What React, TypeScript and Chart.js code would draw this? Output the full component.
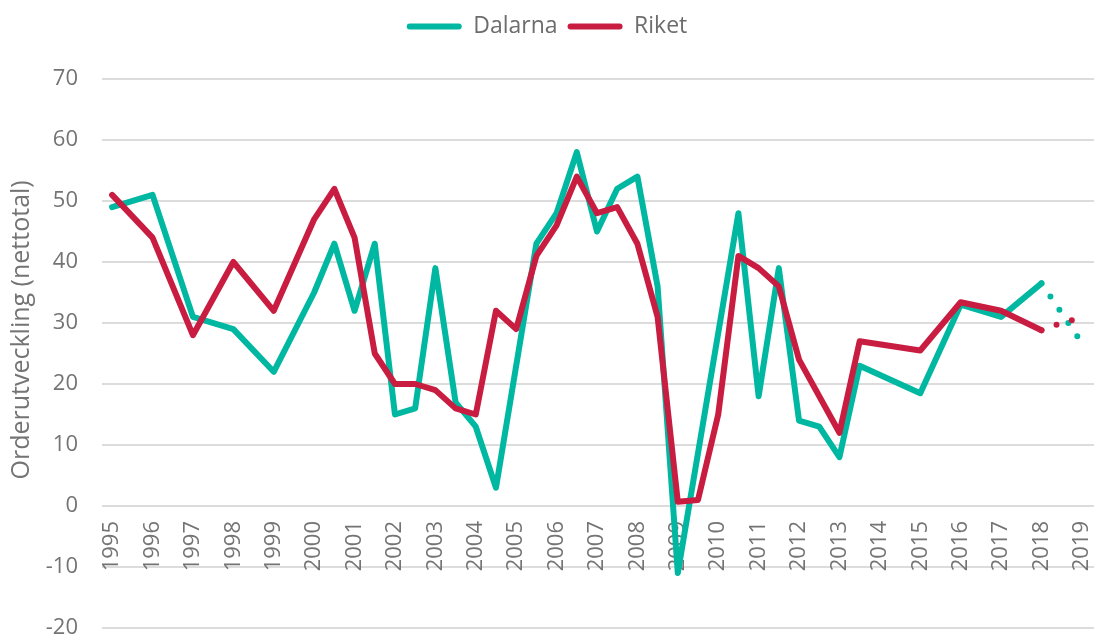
import React, { useEffect, useRef } from "react";
import { Chart, registerables } from "chart.js";

Chart.register(...registerables);

// ---- data ----
const periods = [
  1995, 1996, 1997, 1998, 1999, 2000, 2000.5, 2001, 2001.5, 2002, 2002.5,
  2003, 2003.5, 2004, 2004.5, 2005, 2005.5, 2006, 2006.5, 2007, 2007.5,
  2008, 2008.5, 2009, 2009.5, 2010, 2010.5, 2011, 2011.5, 2012, 2012.5,
  2013, 2013.5, 2015, 2016, 2017, 2018, 2018.5, 2019,
];
const dalarna = [
  49, 51, 31, 29, 22, 35, 43, 32, 43, 15, 16,
  39, 17, 13, 3, null, 43, 48, 58, 45, 52,
  54, 36, -11, null, null, 48, 18, 39, 14, 13,
  8, 23, 18.5, 33, 31, 36.5, 31.6, 26.7,
];
const riket = [
  51, 44, 28, 40, 32, 47, 52, 44, 25, 20, 20,
  19, 16, 15, 32, 29, 41, 46, 54, 48, 49,
  43, 31, 0.7, 1, 15, 41, 39, 36, 24, null,
  12, 27, 25.5, 33.4, 32, 28.8, 30, 30.9,
];
const yearTicks = [
  1995, 1996, 1997, 1998, 1999, 2000, 2001, 2002, 2003, 2004, 2005, 2006,
  2007, 2008, 2009, 2010, 2011, 2012, 2013, 2014, 2015, 2016, 2017, 2018, 2019,
];
const yearLabels = yearTicks.map((y) => String(y));
const seriesNames = ["Dalarna", "Riket"];
const yTitle = "Orderutveckling (nettotal)";
const forecastFrom = 2018;

const TEAL = "#00B8A1";
const RED = "#C91C41";
const TEXT = "#747474";
const FONT = '"Open Sans", sans-serif';

const legendGap = {
  id: "legendGap",
  beforeInit(chart: any) {
    const lg = chart.legend;
    if (!lg) return;
    const orig = lg.fit;
    lg.fit = function () {
      orig.call(this);
      this.height += 31;
    };
  },
};

const yTitlePlugin = {
  id: "yTitleText",
  afterDraw(chart: any) {
    const { ctx, chartArea } = chart;
    ctx.save();
    ctx.translate(22, chartArea.top + (chartArea.bottom - chartArea.top) * 0.457);
    ctx.rotate(-Math.PI / 2);
    ctx.font = `25px ${FONT}`;
    ctx.fillStyle = TEXT;
    ctx.textAlign = "center";
    ctx.textBaseline = "middle";
    ctx.fillText(yTitle, 0, 0);
    ctx.restore();
  },
};

export default function App() {
  const ref = useRef<HTMLCanvasElement>(null);

  useEffect(() => {
    const dotted = (c: any) => (c.p0.parsed.x >= forecastFrom ? [0, 16] : undefined);
    const mk = (label: string, vals: (number | null)[], color: string, order: number) => ({
      label,
      data: periods.map((x, i) => ({ x, y: vals[i] })),
      borderColor: color,
      backgroundColor: color,
      borderWidth: 6,
      pointRadius: 0,
      borderCapStyle: "round" as const,
      borderJoinStyle: "round" as const,
      spanGaps: true,
      order,
      segment: { borderDash: dotted },
    });

    const chart = new Chart(ref.current as HTMLCanvasElement, {
      type: "line",
      data: {
        datasets: [
          mk(seriesNames[0], dalarna, TEAL, 1),
          mk(seriesNames[1], riket, RED, 0),
        ],
      },
      options: {
        animation: false,
        responsive: true,
        maintainAspectRatio: false,
        events: [],
        layout: { padding: { top: 5, left: 0, right: 0, bottom: 0 } },
        plugins: {
          tooltip: { enabled: false },
          legend: {
            position: "top",
            align: "center",
            labels: {
              font: { family: FONT, size: 23 },
              color: "#6d6d6d",
              boxWidth: 55,
              boxHeight: 6,
              useBorderRadius: true,
              borderRadius: 3,
              padding: 10,
              sort: (a: any, b: any) => a.datasetIndex - b.datasetIndex,
              generateLabels: (ch: any) =>
                Chart.defaults.plugins.legend.labels
                  .generateLabels(ch)
                  .map((it: any) => ({ ...it, lineWidth: 0, lineDash: [] })),
            },
          },
        },
        scales: {
          x: {
            type: "linear",
            min: 1994.75,
            max: 2019.3,
            position: { y: 0 } as any,
            z: 1,
            grid: { display: false, drawTicks: false },
            border: { display: false },
            afterBuildTicks: (s: any) => {
              s.ticks = yearTicks.map((v) => ({ value: v }));
            },
            afterFit: (s: any) => {
              s.paddingLeft = 0;
              s.paddingRight = 0;
              s.paddingTop = 0;
              s.paddingBottom = 0;
            },
            ticks: {
              autoSkip: false,
              minRotation: 90,
              maxRotation: 90,
              padding: 15,
              color: TEXT,
              font: { family: FONT, size: 22 },
              callback: (_v: any, i: number) => yearLabels[i],
            },
          },
          y: {
            min: -20,
            max: 70,
            afterFit: (s: any) => {
              s.width = 102;
              s.paddingBottom = 11;
            },
            grid: { color: "#dcdcdc", lineWidth: 2, drawTicks: false },
            border: { display: false },
            ticks: {
              stepSize: 10,
              padding: 24,
              color: TEXT,
              font: { family: FONT, size: 22 },
            },
          },
        },
      },
      plugins: [legendGap, yTitlePlugin],
    });
    return () => chart.destroy();
  }, []);

  return (
    <div style={{ position: "fixed", left: 0, top: 0, width: 1094, height: 639, background: "#fff" }}>
      <canvas ref={ref} />
    </div>
  );
}
